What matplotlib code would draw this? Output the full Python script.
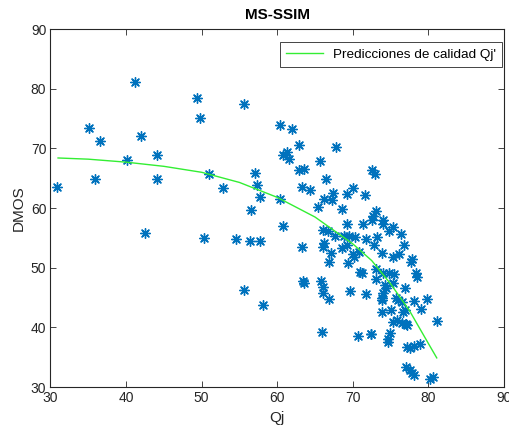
import numpy as np
import matplotlib
matplotlib.use("Agg")
import matplotlib.pyplot as plt

plt.rcParams['font.family'] = ['Liberation Sans', 'DejaVu Sans']

# Objective quality index Qj and subjective score DMOS for each image
qj = [30.9, 35.1, 35.9, 36.6, 40.1, 41.2, 42.0, 42.5, 44.1, 44.1,
      49.4, 49.8, 50.3, 51.0, 52.8, 54.5, 55.6, 55.6, 56.4, 56.5,
      57.0, 57.3, 57.7, 57.7, 58.1, 60.4, 60.4, 60.8, 60.8, 61.3,
      61.6, 62.0, 62.9, 62.9, 63.5, 63.3, 63.3, 63.4, 63.6, 64.3,
      65.4, 65.6, 65.8, 65.9, 66.0, 66.0, 66.1, 66.1, 66.2, 66.2,
      66.5, 66.7, 66.8, 66.9, 67.1, 67.3, 67.4, 67.6, 67.8, 68.6,
      68.6, 68.8, 69.2, 69.2, 69.2, 69.3, 69.5, 69.6, 70.0, 70.0,
      70.1, 70.3, 70.7, 70.8, 70.9, 71.3, 71.6, 71.7, 71.7, 72.4,
      72.5, 72.9, 72.5, 72.7, 73.0, 72.8, 73.2, 73.1, 73.1, 73.8,
      73.8, 73.9, 74.0, 74.0, 74.4, 74.0, 74.8, 74.8, 74.9, 74.7,
      75.3, 75.3, 75.3, 75.7, 75.8, 76.1, 76.4, 76.5, 76.8, 76.9,
      76.9, 76.5, 77.2, 77.2, 77.8, 77.7, 77.0, 77.5, 78.1, 78.9,
      77.5, 77.8, 78.1, 78.1, 78.4, 78.5, 79.0, 79.8, 80.2, 80.6,
      81.1, 74.3, 75.4, 74.0, 75.3, 76.0, 71.2, 72.4, 74.6, 76.6,
      75.0, 73.9, 77.0]
dmos = [63.5, 73.5, 64.9, 71.2, 68.0, 81.2, 72.1, 55.8, 68.9, 64.8,
        78.4, 75.1, 55.0, 65.7, 63.4, 54.8, 77.4, 46.3, 54.5, 59.6,
        65.8, 63.9, 61.9, 54.5, 43.8, 73.9, 61.5, 68.9, 57.0, 69.4,
        68.2, 73.2, 70.6, 66.4, 66.5, 63.5, 53.5, 47.8, 47.5, 63.0,
        60.2, 67.9, 47.8, 39.2, 56.3, 53.5, 46.8, 45.8, 61.5, 54.2,
        64.9, 56.2, 51.0, 44.8, 52.5, 61.3, 62.5, 55.3, 70.2, 59.8,
        53.3, 55.3, 62.3, 57.3, 53.8, 50.8, 55.3, 46.1, 52.3, 63.4,
        51.8, 55.2, 38.6, 52.6, 49.3, 57.3, 62.2, 54.8, 45.6, 38.9,
        66.4, 65.7, 58.0, 58.6, 59.5, 53.8, 55.2, 49.8, 48.2, 52.5,
        44.6, 42.6, 58.0, 57.4, 46.6, 49.1, 56.2, 49.1, 39.1, 38.0,
        56.8, 51.8, 47.5, 44.9, 41.3, 52.3, 55.7, 44.3, 53.8, 46.6,
        43.0, 40.8, 40.4, 36.8, 51.5, 51.0, 33.4, 36.6, 36.9, 37.2,
        32.9, 32.4, 32.0, 44.4, 49.1, 48.5, 43.1, 44.8, 31.4, 31.7,
        41.0, 47.1, 49.0, 45.8, 40.9, 44.6, 49.2, 38.9, 37.6, 42.6,
        43.0, 45.0, 40.6]

# Fitted quality prediction curve
fit_qj = [31, 35, 40, 45, 50, 55, 60, 65, 70, 72.5, 75, 77.5, 80, 81.1]
fit_dmos = [68.4, 68.2, 67.7, 67.0, 66.0, 64.3, 61.8, 58.5, 54.0, 51.2,
            47.3, 42.8, 37.3, 34.9]

fig = plt.figure(figsize=(5.09, 4.34), dpi=100)
ax = fig.add_axes([0.0992, 0.108, 0.891, 0.825])

ax.scatter(qj, dmos, marker=(8, 2, 0), s=48, color='#0072BD',
           linewidths=1.0, zorder=2)
ax.plot(fit_qj, fit_dmos, color='#33EE33', lw=1.0,
        label="Predicciones de calidad Qj'", zorder=3)

ax.set_xlim(30, 90)
ax.set_ylim(30, 90)
ax.set_xticks(np.arange(30, 91, 10))
ax.set_yticks(np.arange(30, 91, 10))

ax.tick_params(direction='in', top=True, right=True, length=4,
               width=0.6, colors='#262626', labelsize=10, pad=3)
for sp in ax.spines.values():
    sp.set_color('#262626')
    sp.set_linewidth(0.8)

ax.set_title('MS-SSIM', fontsize=11, fontweight='bold', pad=7)
ax.set_xlabel('Qj', fontsize=11, color='#262626', labelpad=4)
ax.set_ylabel('DMOS', fontsize=11, color='#262626', labelpad=4)

leg = ax.legend(loc='upper right', bbox_to_anchor=(0.9956, 0.9637),
                borderaxespad=0, fontsize=9.7, fancybox=False,
                framealpha=1, edgecolor='#262626', handlelength=2.7,
                handletextpad=0.75, borderpad=0.45)
leg.get_frame().set_linewidth(0.6)

fig.savefig('out.png', dpi=100)
